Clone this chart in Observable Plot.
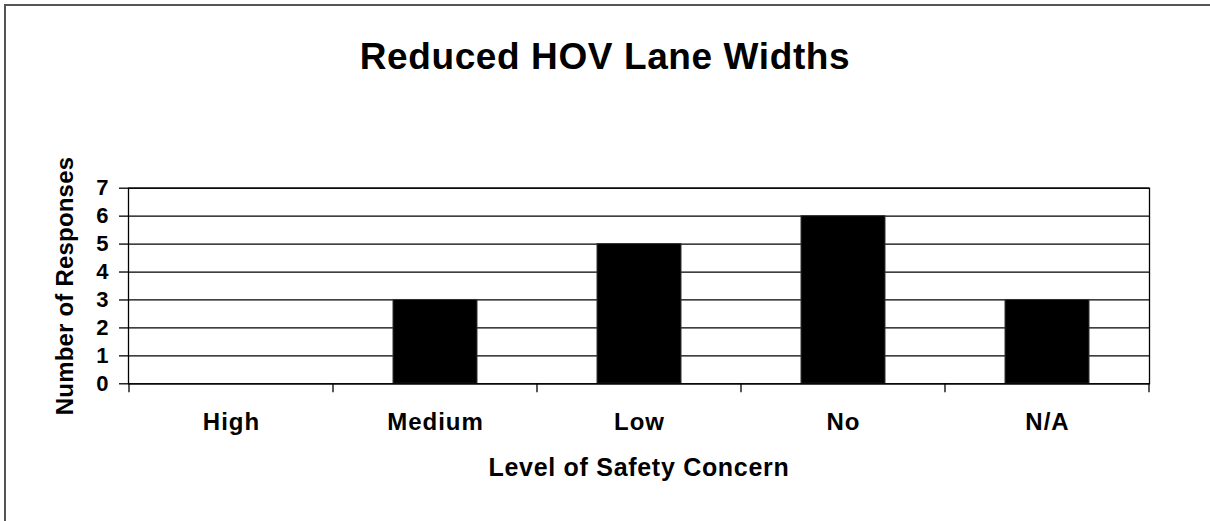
<!DOCTYPE html>
<html>
<head>
<meta charset="utf-8">
<script src="https://cdn.jsdelivr.net/npm/d3@7"></script>
<script src="https://cdn.jsdelivr.net/npm/@observablehq/plot@0.6"></script>
<style>
  html, body { margin: 0; padding: 0; background: #fff; }
  #wrap { position: relative; width: 1210px; height: 521px; overflow: hidden; font-family: "Liberation Sans", Arial, sans-serif; }
  #frame { position: absolute; left: 4px; top: 4px; width: 1400px; height: 700px; border-left: 2px solid #555; border-top: 2px solid #555; box-sizing: border-box; pointer-events: none; }
  #title { height: 90px; box-sizing: border-box; padding-top: 38px; font-size: 37px; line-height: 37px; font-weight: bold; text-align: center; letter-spacing: 0.6px; color: #000; }
  #chart svg { display: block; overflow: visible; }
  g[aria-label="x-axis tick label"] text { letter-spacing: 1px; }
  .axis-title text { letter-spacing: 0.7px; }
  .axis-title-y text { letter-spacing: 0.2px; }
</style>
</head>
<body>
<div id="wrap">
  <div id="title"></div>
  <div id="chart"></div>
  <div id="frame"></div>
</div>
<script>
const titleText = "Reduced HOV Lane Widths";
const categories = ["High", "Medium", "Low", "No", "N/A"];
const responses = [0, 3, 5, 6, 3];
const yTicks = [0, 1, 2, 3, 4, 5, 6, 7];
const xLabel = "Level of Safety Concern";
const yLabel = "Number of Responses";

const data = categories.map((c, i) => ({category: c, value: responses[i]}));
document.getElementById("title").textContent = titleText;

const FONT = "Liberation Sans, Arial, sans-serif";

// tick marks at the boundaries between categories, using the x band scale
function boundaryTicks(index, scales, values, dimensions) {
  const x = scales.x;
  const step = x.step(), bw = x.bandwidth();
  const half = (step - bw) / 2;
  const xs = categories.map(c => x(c) - half);
  xs.push(x(categories[categories.length - 1]) + bw + half);
  const y0 = dimensions.height - dimensions.marginBottom;
  const g = d3.create("svg:g").attr("aria-label", "category boundary ticks");
  g.selectAll("line").data(xs).join("line")
    .attr("x1", d => d).attr("x2", d => d)
    .attr("y1", y0).attr("y2", y0 + 9)
    .attr("stroke", "black").attr("stroke-width", 1.3);
  return g.node();
}

const plot = Plot.plot({
  width: 1210,
  height: 431,
  marginLeft: 128,
  marginRight: 61,
  marginTop: 97.7,
  marginBottom: 137.7,
  style: {fontFamily: FONT, color: "black", background: "white", overflow: "visible"},
  x: {domain: categories, paddingInner: 0.59, paddingOuter: 0.295, label: null},
  y: {domain: [0, 7], label: null},
  marks: [
    Plot.gridY(yTicks, {stroke: "black", strokeOpacity: 1, strokeWidth: 1.3}),
    Plot.barY(data, {x: "category", y: "value", fill: "black", stroke: "#333", strokeWidth: 1}),
    Plot.frame({stroke: "black", strokeWidth: 1.3}),
    Plot.axisY(yTicks, {tickSize: 9, tickPadding: 11, fontSize: 22, fontWeight: "bold", fontFamily: FONT, label: null, strokeWidth: 1.3, tickFormat: d => String(d)}),
    Plot.axisX({tickSize: 0, tickPadding: 29.4, fontSize: 24, fontWeight: "bold", fontFamily: FONT, label: null}),
    boundaryTicks,
    Plot.text([xLabel], {text: d => d, frameAnchor: "bottom", textAnchor: "middle", lineAnchor: "middle", dy: 84.6, fontSize: 25, fontWeight: "bold", fontFamily: FONT, fill: "black", className: "axis-title"}),
    Plot.text([yLabel], {text: d => d, frameAnchor: "left", textAnchor: "middle", lineAnchor: "middle", dx: -63, rotate: -90, fontSize: 24, fontWeight: "bold", fontFamily: FONT, fill: "black", className: "axis-title-y"})
  ]
});
document.getElementById("chart").appendChild(plot);
</script>
</body>
</html>
